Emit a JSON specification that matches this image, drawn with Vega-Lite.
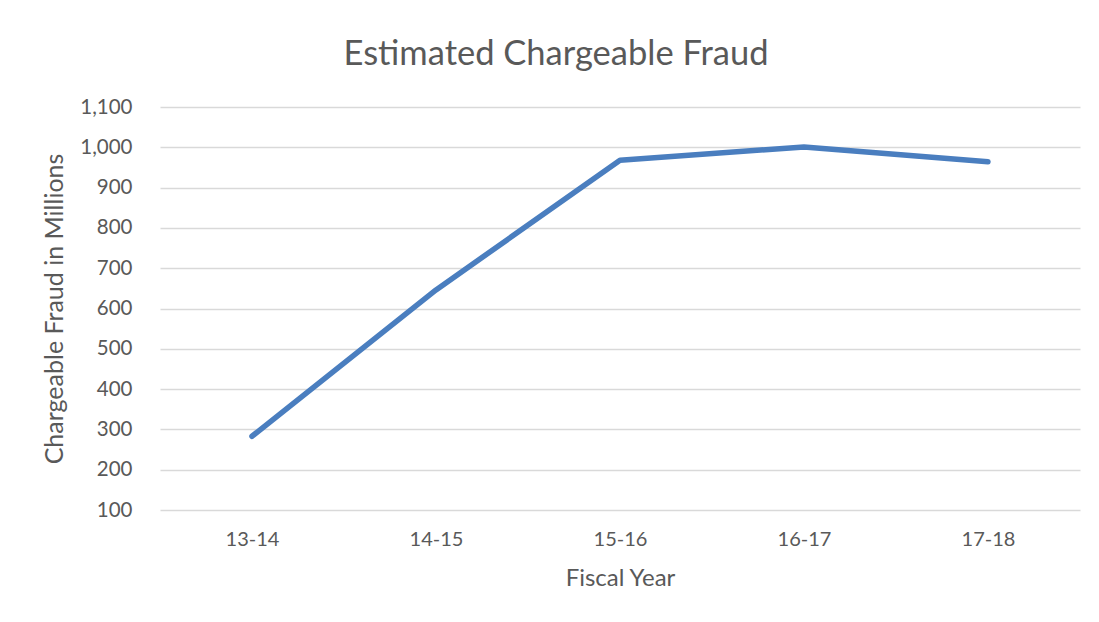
{
  "$schema": "https://vega.github.io/schema/vega-lite/v6.json",
  "autosize": {"type": "none"},
  "width": 920,
  "height": 403,
  "padding": {"left": 160, "top": 107, "right": 19, "bottom": 112},
  "background": "white",
  "title": {
    "text": "Estimated Chargeable Fraud",
    "font": "Lato",
    "fontSize": 34.5,
    "fontWeight": "normal",
    "color": "#595959",
    "anchor": "middle",
    "dx": -64,
    "offset": 25
  },
  "data": {
    "values": [
      {"year": "13-14", "fraud": 283},
      {"year": "14-15", "fraud": 646},
      {"year": "15-16", "fraud": 968},
      {"year": "16-17", "fraud": 1001},
      {"year": "17-18", "fraud": 964}
    ]
  },
  "mark": {"type": "line", "color": "#4A7EBF", "strokeWidth": 5.5, "strokeCap": "round", "strokeJoin": "round"},
  "encoding": {
    "x": {
      "field": "year",
      "type": "ordinal",
      "scale": {"type": "point", "padding": 0.5},
      "axis": {
        "title": "Fiscal Year",
        "titleFont": "Lato",
        "titleFontSize": 24,
        "titleFontWeight": "normal",
        "titleColor": "#595959",
        "titlePadding": 17,
        "labelFont": "Lato",
        "labelFontSize": 20,
        "labelColor": "#595959",
        "labelAngle": 0,
        "labelPadding": 19,
        "ticks": false,
        "domain": false,
        "grid": false
      }
    },
    "y": {
      "field": "fraud",
      "type": "quantitative",
      "scale": {"domain": [100, 1100], "nice": false, "zero": false},
      "axis": {
        "title": "Chargeable Fraud in Millions",
        "titleFont": "Lato",
        "titleFontSize": 25,
        "titleFontWeight": "normal",
        "titleColor": "#595959",
        "titlePadding": 12,
        "labelFont": "Lato",
        "labelFontSize": 20.5,
        "labelColor": "#595959",
        "labelPadding": 28,
        "values": [100, 200, 300, 400, 500, 600, 700, 800, 900, 1000, 1100],
        "format": ",d",
        "ticks": false,
        "domain": false,
        "grid": true,
        "gridColor": "#D9D9D9",
        "gridWidth": 1.5
      }
    }
  },
  "config": {"view": {"stroke": null}}
}
